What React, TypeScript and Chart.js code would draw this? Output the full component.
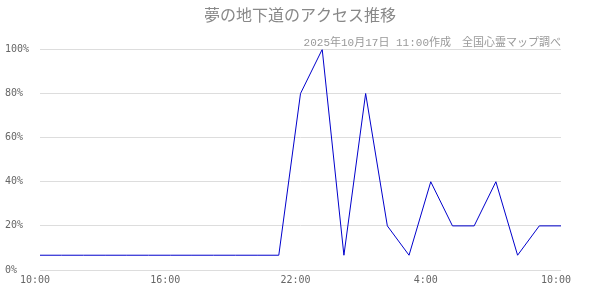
import React, { useEffect, useRef } from "react";
import { Chart, registerables } from "chart.js";

Chart.register(...registerables);

const titleText = "夢の地下道のアクセス推移";
const subtitleText = "2025年10月17日 11:00作成　全国心霊マップ調べ";

const hours = [
  "10:00", "11:00", "12:00", "13:00", "14:00", "15:00", "16:00", "17:00",
  "18:00", "19:00", "20:00", "21:00", "22:00", "23:00", "0:00", "1:00",
  "2:00", "3:00", "4:00", "5:00", "6:00", "7:00", "8:00", "9:00", "10:00",
];

const tickLabels = ["10:00", "16:00", "22:00", "4:00", "10:00"];

const accessPercent = [
  6.7, 6.7, 6.7, 6.7, 6.7, 6.7, 6.7, 6.7, 6.7, 6.7, 6.7, 6.7,
  80, 100, 6.7, 80, 20, 6.7, 40, 20, 20, 40, 6.7, 20, 20,
];

const yTicks = [0, 20, 40, 60, 80, 100];

export default function App() {
  const ref = useRef<HTMLCanvasElement | null>(null);

  useEffect(() => {
    if (!ref.current) return;
    const chart = new Chart(ref.current, {
      type: "line",
      data: {
        labels: hours,
        datasets: [
          {
            data: accessPercent,
            borderColor: "#0000cc",
            borderWidth: 1,
            pointRadius: 0,
            tension: 0,
            fill: false,
          },
        ],
      },
      options: {
        animation: false,
        responsive: true,
        maintainAspectRatio: false,
        layout: { padding: { left: 5, right: 5, top: 0, bottom: 0 } },
        plugins: {
          legend: { display: false },
          tooltip: { enabled: false },
          title: {
            display: true,
            text: titleText,
            color: "#888888",
            font: { size: 16, weight: "normal", family: "'Liberation Serif', 'Noto Sans CJK JP', serif" },
            padding: { top: 7, bottom: 4 },
          },
          subtitle: {
            display: true,
            text: subtitleText,
            align: "end",
            fullSize: false,
            color: "#999999",
            font: { size: 11, weight: "normal", family: "'Liberation Mono', 'Noto Sans CJK JP', monospace" },
            padding: { top: 6, bottom: 0 },
          },
        },
        scales: {
          x: {
            type: "category",
            offset: false,
            grid: { display: false, drawTicks: false },
            border: { display: false },
            ticks: {
              autoSkip: false,
              maxRotation: 0,
              padding: 4,
              labelOffset: -5,
              color: "#666666",
              font: { size: 10, family: "'DejaVu Sans Mono', monospace" },
              callback: (_v: any, i: number) => (i % 6 === 0 ? tickLabels[i / 6] : ""),
            },
            afterFit: (s: any) => {
              s.height = 30;
            },
          },
          y: {
            min: 0,
            max: 100,
            afterBuildTicks: (s: any) => {
              s.ticks = yTicks.map((v) => ({ value: v }));
            },
            grid: { color: "#dddddd", drawTicks: false },
            border: { display: false },
            ticks: {
              crossAlign: "far",
              color: "#666666",
              font: { size: 10, family: "'DejaVu Sans Mono', monospace" },
              callback: (v: any) => v + "%",
            },
            afterFit: (s: any) => {
              s.width = 35;
            },
          },
          yRight: {
            position: "right",
            display: true,
            grid: { display: false, drawTicks: false },
            border: { display: false },
            ticks: { display: false },
            afterFit: (s: any) => {
              s.width = 34;
            },
          },
        },
      },
    });
    return () => chart.destroy();
  }, []);

  return (
    <div style={{ position: "absolute", left: 0, top: 0, width: 600, height: 300, background: "#fff" }}>
      <canvas ref={ref} />
    </div>
  );
}
